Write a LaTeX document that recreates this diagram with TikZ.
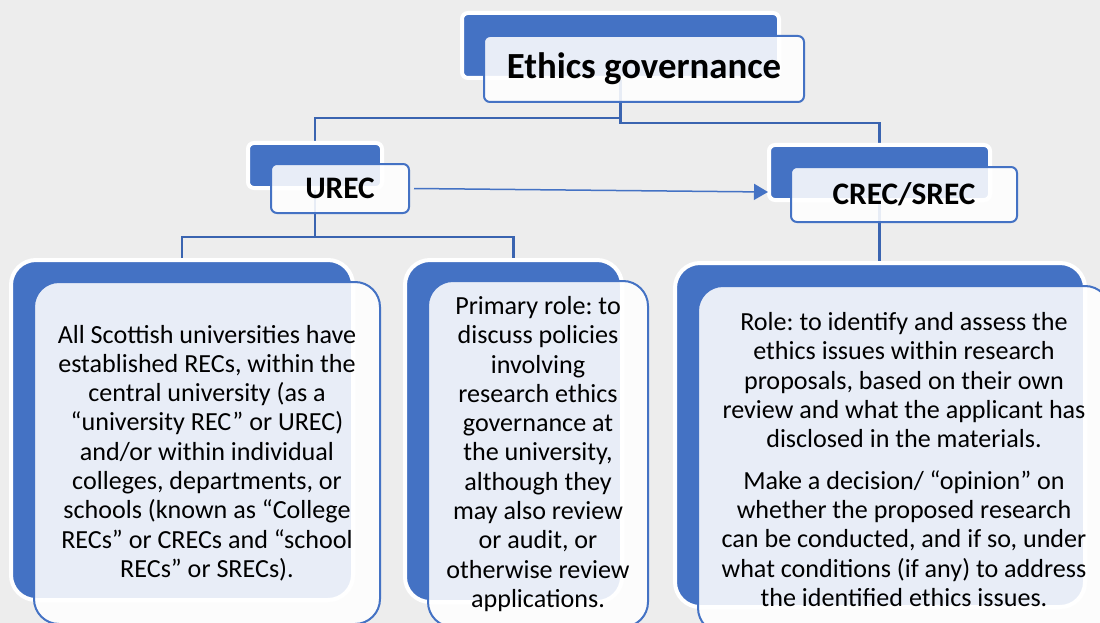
\documentclass[tikz,border=0pt]{standalone}
\usepackage{fontspec}
\setmainfont{Carlito}
\frenchspacing
\usetikzlibrary{arrows.meta}
\definecolor{govblue}{HTML}{4472C4}
\definecolor{linkblue}{HTML}{3A64B0}
\definecolor{paper}{HTML}{EDEDED}
\pgfdeclarelayer{background}
\pgfdeclarelayer{lines}
\pgfsetlayers{background,lines,main}
\begin{document}
\begin{tikzpicture}[x=1pt,y=-1pt]
    \tikzset{
        backbox/.style={draw=white,line width=4pt,fill=govblue,inner sep=0pt},
        frontbox/.style={draw=govblue,line width=2pt,fill=white,fill opacity=0.88,text opacity=1,inner sep=0pt,align=center},
        headbox/.style={rounded corners=6pt,font=\bfseries\fontsize{31.3}{36}\selectfont},
        bodybox/.style={rounded corners=25pt,font=\fontsize{26.1}{29.3}\selectfont},
        conn/.style={draw=linkblue,line width=2.5pt},
        link/.style={draw=govblue,line width=1.5pt,-{Triangle[length=14pt,width=16pt]}}}
    \useasboundingbox (0,0) rectangle (1100,623);
    \begin{pgfonlayer}{background}
        \fill[paper] (0,0) rectangle (1100,623);
    \end{pgfonlayer}
    % top level
    \node[backbox,headbox,minimum width=317,minimum height=65] (gov-b) at (620.5,45.5) {};
    \node[frontbox,headbox,minimum width=320,minimum height=66,font=\bfseries\fontsize{36.8}{42}\selectfont] (gov) at (644,69) {Ethics governance};
    % committees
    \node[backbox,headbox,minimum width=134,minimum height=45] (urec-b) at (315,165.5) {};
    \node[frontbox,headbox,minimum width=138,minimum height=49] (urec) at (340,188.5) {UREC};
    \node[backbox,headbox,minimum width=221,minimum height=55] (crec-b) at (879.5,172.5) {};
    \node[frontbox,headbox,minimum width=226,minimum height=55] (crec) at (904,194.5) {CREC/SREC};
    % descriptions
    \node[backbox,bodybox,minimum width=342,minimum height=340] (scot-b) at (182,430) {};
    \node[frontbox,bodybox,minimum width=346,minimum height=342] (scot) at (207,453) {All Scottish universities have\\ established RECs, within the\\ central university (as a\\ “university REC” or UREC)\\ and/or within individual\\ colleges, departments, or\\ schools (known as “College\\ RECs” or CRECs and “school\\ RECs” or SRECs).};
    \node[backbox,bodybox,minimum width=217,minimum height=342] (role-b) at (513.5,431) {};
    \node[frontbox,bodybox,minimum width=220,minimum height=346] (role) at (538,454) {Primary role: to\\ discuss policies\\ involving\\ research ethics\\ governance at\\ the university,\\ although they\\ may also review\\ or audit, or\\ otherwise review\\ applications.};
    \node[backbox,bodybox,minimum width=410,minimum height=344] (task-b) at (880,435) {};
    \node[frontbox,bodybox,minimum width=412,minimum height=347] (task) at (904,459.5) {Role: to identify and assess the\\ ethics issues within research\\ proposals, based on their own\\ review and what the applicant has\\ disclosed in the materials.\\[12pt] Make a decision/ “opinion” on\\ whether the proposed research\\ can be conducted, and if so, under\\ what conditions (if any) to address\\ the identified ethics issues.};
    \begin{pgfonlayer}{lines}
        \draw[conn] (gov-b.center) -- ++(0,72.5) -| (urec-b.center);
        \draw[conn] (gov-b.center) -- ++(0,77.5) -| (crec-b.center);
        \draw[conn] (urec-b.center) -- ++(0,71.5) -| (scot-b.center);
        \draw[conn] (urec-b.center) -- ++(0,71.5) -| (role-b.center);
        \draw[conn] (crec-b.center) -- (crec-b.center |- task-b.center);
    \end{pgfonlayer}
    \coordinate (crec-in) at (768,192);
    \draw[link] ([xshift=4pt]urec.east) -- (crec-in);
\end{tikzpicture}
\end{document}
